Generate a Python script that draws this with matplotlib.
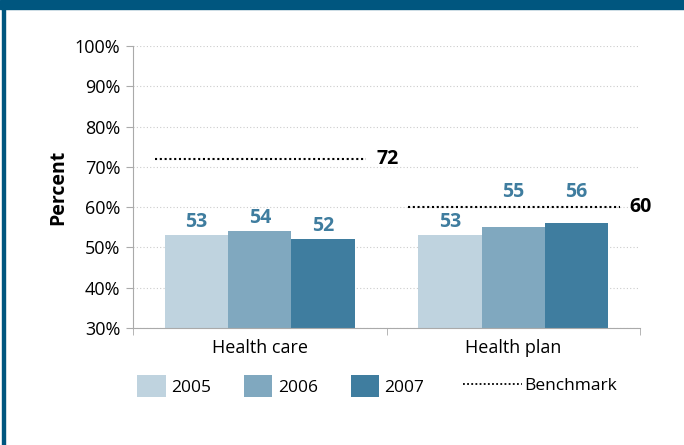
import matplotlib
matplotlib.use('Agg')
from matplotlib import pyplot as plt
from matplotlib.patches import Patch, Rectangle
from matplotlib.lines import Line2D
import numpy as np

# data
categories = ['Health care', 'Health plan']
years = ['2005', '2006', '2007']
values_2005 = [53, 53]
values_2006 = [54, 55]
values_2007 = [52, 56]
benchmark = [72, 60]
yticks = [30, 40, 50, 60, 70, 80, 90, 100]

colors = ['#bfd3df', '#80a8bf', '#3f7d9f']
label_color = '#3f7d9f'
frame_color = '#00567f'

plt.rcParams['font.family'] = ['Open Sans', 'DejaVu Sans']

fig = plt.figure(figsize=(6.84, 4.45), dpi=100)
ax = fig.add_axes([133 / 684, 1 - 328 / 445, 507 / 684, 282 / 445])

x = np.arange(len(categories))
width = 0.25
series = [values_2005, values_2006, values_2007]
for i, vals in enumerate(series):
    pos = x + (i - 1) * width
    ax.bar(pos, vals, width=width, color=colors[i], zorder=2)
    for j, (p, v) in enumerate(zip(pos, vals)):
        ly = v + 0.9
        # lift labels that would run into the benchmark line
        if 0 < benchmark[j] - v < 6:
            ly = benchmark[j] + 1.2
        ax.text(p, ly, str(v), ha='center', va='bottom', color=label_color,
                fontsize=14, fontweight='bold')

# benchmark lines
for xi, b in zip(x, benchmark):
    ax.plot([xi - 0.415, xi + 0.42], [b, b], color='black', linestyle=(0, (1, 1.3)),
            linewidth=1.5, zorder=3)
    ax.text(xi + 0.46, b, str(b), ha='left', va='center', color='black',
            fontsize=14, fontweight='bold')

ax.set_xlim(-0.5, 1.5)
ax.set_ylim(30, 100)
ax.set_yticks(yticks)
ax.set_yticklabels([f'{t}%' for t in yticks], fontsize=13)
ax.set_xticks(x)
ax.set_xticklabels(categories, fontsize=13)
ax.tick_params(axis='x', length=0, pad=8)
ax.set_xticks([-0.5, 0.5, 1.5], minor=True)
ax.tick_params(axis='x', which='minor', length=5, color='#aaaaaa', direction='out')
ax.tick_params(axis='y', length=5, color='#aaaaaa', pad=4)
ax.grid(axis='y', color='#cccccc', linestyle=(0, (1, 2)), linewidth=0.8, zorder=0)
ax.set_axisbelow(True)
for s in ['top', 'right']:
    ax.spines[s].set_visible(False)
for s in ['left', 'bottom']:
    ax.spines[s].set_color('#aaaaaa')
ax.set_ylabel('Percent', fontsize=14, fontweight='bold', labelpad=5)

# legend: year patches
handles = [Patch(facecolor=c, edgecolor='none') for c in colors]
leg1 = fig.legend(handles, years, loc='center left', bbox_to_anchor=(137 / 684, 1 - 386 / 445),
                  ncol=3, frameon=False, fontsize=12.5, handlelength=1.65, handleheight=1.65,
                  handletextpad=0.3, columnspacing=1.9, borderpad=0, borderaxespad=0)
# legend: benchmark line
bline = Line2D([0], [0], color='black', linestyle=(0, (1, 1.3)), linewidth=1.3)
fig.legend([bline], ['Benchmark'], loc='center left', bbox_to_anchor=(463 / 684, 1 - 386 / 445),
           frameon=False, fontsize=12.5, handlelength=3.4, handletextpad=0.1,
           borderpad=0, borderaxespad=0)

# frame
fig.patches.append(Rectangle((0, 1 - 9 / 445), 1, 9 / 445, transform=fig.transFigure,
                             color=frame_color, zorder=10))
fig.patches.append(Rectangle((2 / 684, 0), 3 / 684, 1, transform=fig.transFigure,
                             color=frame_color, zorder=10))

fig.savefig('out.png', dpi=100)
